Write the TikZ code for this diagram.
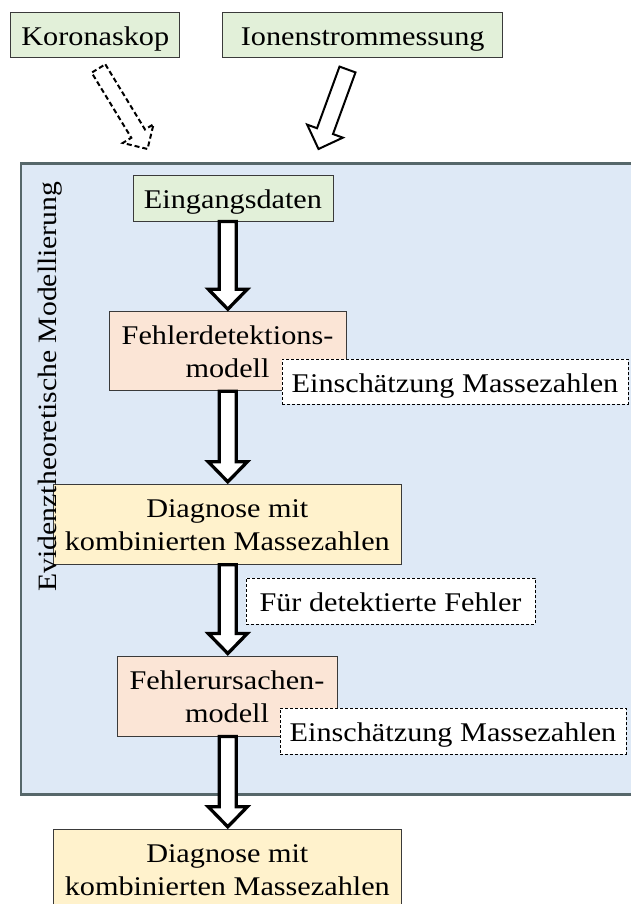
\documentclass[tikz,border=0pt]{standalone}
\usepackage{fontspec}
\setmainfont{Liberation Serif}[FakeStretch=1.12]
\usetikzlibrary{calc}
\definecolor{boxgreen}{HTML}{E2F0D9}
\definecolor{boxsalmon}{HTML}{FBE5D6}
\definecolor{boxyellow}{HTML}{FFF2CC}
\definecolor{bgblue}{HTML}{DEE9F6}
\definecolor{bgborder}{HTML}{56676A}
\definecolor{boxborder}{HTML}{3A3A3A}
\newcommand\blockarrow[6]{%
  \path ($(#3)!#6!(#2)$) coordinate (bah);
  \draw[#1] ($(#2)!#4!90:(#3)$) -- ($(bah)!#4!90:(#3)$) -- ($(bah)!#5!90:(#3)$) -- (#3)
    -- ($(bah)!#5!-90:(#3)$) -- ($(bah)!#4!-90:(#3)$) -- ($(#2)!#4!-90:(#3)$) -- cycle;
}
\tikzset{
  box/.style={draw=boxborder, line width=1pt, inner sep=0pt,
    text height=21pt, text depth=0pt, font=\fontsize{27}{33}\selectfont},
  twoline/.style={align=center, text height=53pt, text depth=0pt},
  greenbox/.style={box, fill=boxgreen},
  salmonbox/.style={box, fill=boxsalmon},
  yellowbox/.style={box, fill=boxyellow},
  notebox/.style={box, fill=white, draw=black, dash pattern=on 3pt off 2pt, line width=0.9pt},
  vblock/.style={draw=black, fill=white, line width=3.3pt, line join=miter},
  dblock/.style={draw=black, fill=white, line width=2pt, line join=miter},
  dashblock/.style={draw=black, fill=none, line width=2pt, line join=miter, dash pattern=on 5pt off 3pt},
}
\begin{document}
\begin{tikzpicture}[x=1pt, y=-1pt]
\useasboundingbox (0,0) rectangle (630,904);
% background frame
\fill[gray!55] (20.5,163) rectangle (660,794.5);
\node[draw=bgborder, fill=bgblue, line width=2.6pt, inner sep=0pt, minimum width=640pt, minimum height=631pt, anchor=north west] (frame) at (19.6,162.2) {};
% input boxes
\node[greenbox, minimum width=169.3pt, minimum height=45pt] (koro) at (95.3,34.8) {Koronaskop};
\node[greenbox, minimum width=280pt, minimum height=45pt] (ion) at (362.7,34.8) {Ionenstrommessung};
% inner boxes
\node[greenbox, minimum width=200pt, minimum height=45.3pt] (ein) at (233,198.4) {Eingangsdaten};
\node[salmonbox, twoline, minimum width=237pt, minimum height=79pt] (fd) at (227.5,351.2) {Fehlerdetektions-\\modell};
\node[yellowbox, twoline, minimum width=348.6pt, minimum height=80pt] (dg1) at (227.3,524.3) {Diagnose mit\\kombinierten Massezahlen};
\node[salmonbox, twoline, minimum width=220pt, minimum height=80pt] (fu) at (227,696) {Fehlerursachen-\\modell};
\node[yellowbox, twoline, minimum width=348.6pt, minimum height=80pt] (dg2) at (227.3,869.3) {Diagnose mit\\kombinierten Massezahlen};
% note boxes
\node[notebox, minimum width=346pt, minimum height=45pt] (es1) at (455,381.8) {Einschätzung Massezahlen};
\node[notebox, minimum width=289pt, minimum height=46pt] (fdf) at (390.5,601) {Für detektierte Fehler};
\node[notebox, minimum width=346pt, minimum height=46pt] (es2) at (453,731.3) {Einschätzung Massezahlen};
% arrows
\coordinate (ax) at (227.8,0);
\coordinate (a1s) at (ax |- ein.south);
\coordinate (a1e) at ($(ax |- fd.north)+(0,-2)$);
\coordinate (a2s) at (ax |- fd.south);
\coordinate (a2e) at ($(ax |- dg1.north)+(0,-2)$);
\coordinate (a3s) at (ax |- dg1.south);
\coordinate (a3e) at ($(ax |- fu.north)+(0,-2)$);
\coordinate (a4s) at (ax |- fu.south);
\coordinate (a4e) at ($(ax |- dg2.north)+(0,-2)$);
\blockarrow{vblock}{a1s}{a1e}{8.5pt}{19.5pt}{20pt}
\blockarrow{vblock}{a2s}{a2e}{8.5pt}{19.5pt}{20pt}
\blockarrow{vblock}{a3s}{a3e}{8.5pt}{19.5pt}{20pt}
\blockarrow{vblock}{a4s}{a4e}{8.5pt}{19.5pt}{20pt}
% diagonal arrows
\coordinate (k1) at (98.5,68.5);
\coordinate (k2) at (147.5,149);
\coordinate (i1) at (347.5,69.5);
\coordinate (i2) at (318.5,149);
\blockarrow{dashblock}{k1}{k2}{8pt}{18pt}{18pt}
\blockarrow{dblock}{i1}{i2}{8.5pt}{19pt}{19pt}
% vertical label
\node[rotate=90, inner sep=0pt, font=\fontsize{26.5}{30}\selectfont] (lbl) at (50.5,386.5) {Evidenztheoretische Modellierung};
\end{tikzpicture}
\end{document}
